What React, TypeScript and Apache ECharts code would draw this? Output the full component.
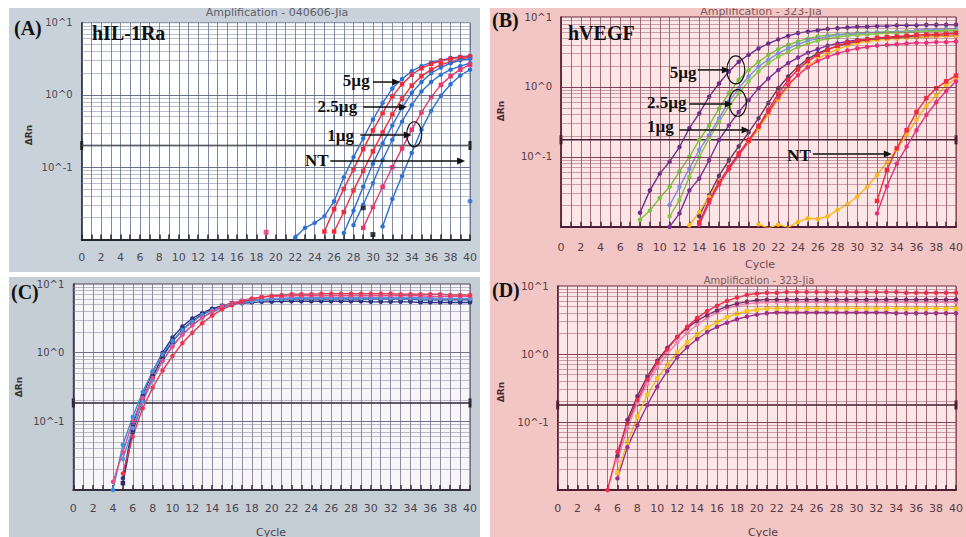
import React, { useEffect, useRef } from "react";
import * as echarts from "echarts";

// ---------- axis / tick data ----------
const xTickLabels = [0, 2, 4, 6, 8, 10, 12, 14, 16, 18, 20, 22, 24, 26, 28, 30, 32, 34, 36, 38, 40];
const yTickValues = [0.1, 1, 10];
const yTickText = ["10^-1", "10^0", "10^1"];
const yMinorLines = [0.02, 0.03, 0.04, 0.05, 0.06, 0.07, 0.08, 0.09, 0.2, 0.3, 0.4, 0.5, 0.6, 0.7, 0.8, 0.9, 2, 3, 4, 5, 6, 7, 8, 9];
const yMajorLines = [0.1, 1];
const thresholds = [0.2, 0.175, 0.185, 0.178];

// ---------- Panel A : hIL-1Ra (ΔRn per cycle) ----------
const aBlue1 = [0.0107, 0.0145, 0.017, 0.0209, 0.0339, 0.0724, 0.138, 0.251, 0.457, 0.776, 1.23, 1.66, 2.14, 2.51, 2.82, 3.02, 3.24, 3.39, 3.47]; // 22-40
const aRed1 = [0.0129, 0.0263, 0.0501, 0.0933, 0.178, 0.324, 0.562, 0.955, 1.41, 1.91, 2.34, 2.69, 2.95, 3.16, 3.31, 3.39]; // 25-40
const aRed2 = [0.0129, 0.024, 0.0479, 0.0891, 0.166, 0.302, 0.537, 0.891, 1.35, 1.82, 2.24, 2.63, 2.88, 3.16, 3.31]; // 26-40
const aBlue2 = [0.0123, 0.0251, 0.0537, 0.112, 0.214, 0.38, 0.661, 1.07, 1.51, 2.0, 2.4, 2.75, 3.02, 3.16]; // 27-40
const aBlue3 = [0.0158, 0.0302, 0.0603, 0.126, 0.24, 0.427, 0.724, 1.12, 1.51, 1.91, 2.24, 2.51, 2.75]; // 28-40
const aPink = [0.0145, 0.0282, 0.0537, 0.1, 0.182, 0.331, 0.575, 0.933, 1.38, 1.82, 2.24, 2.63]; // 29-40
const aBlueR = [0.0151, 0.0363, 0.0759, 0.158, 0.331, 0.603, 0.977, 1.41, 1.86, 2.24]; // 31-40
const aPinkDot: [number, number][] = [[19, 0.0126]];
const aBlackDots: [number, number][] = [[29, 0.0275], [30, 0.0117]];
const aBlueDot: [number, number][] = [[40, 0.0339]];

// ---------- Panel B : hVEGF ----------
const bPurple1 = [0.0158, 0.0331, 0.0575, 0.0851, 0.138, 0.257, 0.417, 0.724, 1.12, 1.66, 2.29, 2.88, 3.55, 4.17, 4.79, 5.37, 5.89, 6.17, 6.46, 6.76, 6.92, 7.08, 7.24, 7.24, 7.41, 7.41, 7.59, 7.59, 7.59, 7.76, 7.76, 7.76, 7.76]; // 8-40
const bGreen1 = [0.0126, 0.017, 0.0257, 0.0372, 0.0617, 0.1, 0.174, 0.282, 0.49, 0.813, 1.26, 1.74, 2.29, 2.88, 3.47, 3.98, 4.47, 4.9, 5.25, 5.5, 5.62, 5.75, 5.89, 6.03, 6.03, 6.17, 6.17, 6.31, 6.31, 6.31, 6.46, 6.46, 6.46]; // 8-40
const bLavender = [0.0204, 0.0372, 0.0676, 0.126, 0.204, 0.355, 0.617, 0.955, 1.41, 1.95, 2.45, 3.02, 3.55, 4.07, 4.57, 4.9, 5.25, 5.5, 5.62, 5.75, 5.89, 6.03, 6.03, 6.17, 6.17, 6.46, 6.61, 6.61, 6.76, 6.76]; // 11-40
const bGreen2 = [0.0141, 0.024, 0.0513, 0.1, 0.182, 0.316, 0.525, 0.813, 1.2, 1.66, 2.19, 2.69, 3.16, 3.72, 4.17, 4.57, 4.9, 5.13, 5.37, 5.5, 5.62, 5.75, 5.89, 5.89, 6.03, 6.03, 6.17, 6.17, 6.31, 6.31]; // 11-40
const bPurple2 = [0.01, 0.0155, 0.0331, 0.049, 0.0891, 0.174, 0.282, 0.437, 0.646, 0.955, 1.32, 1.74, 2.19, 2.63, 3.09, 3.47, 3.89, 4.17, 4.47, 4.68, 4.79, 4.9, 5.01, 5.13, 5.25, 5.25, 5.37, 5.37, 5.5, 5.5]; // 11-40
const bDark = [0.0141, 0.0282, 0.0537, 0.0891, 0.141, 0.224, 0.355, 0.589, 0.955, 1.41, 1.95, 2.51, 3.02, 3.47, 3.8, 4.17, 4.47, 4.68, 4.79, 4.9, 5.01, 5.13, 5.13, 5.25, 5.25, 5.37, 5.37]; // 14-40
const bRed = [0.0115, 0.024, 0.0427, 0.0708, 0.112, 0.174, 0.275, 0.468, 0.794, 1.26, 1.78, 2.34, 2.88, 3.39, 3.89, 4.27, 4.57, 4.79, 5.01, 5.13, 5.25, 5.37, 5.5, 5.62, 5.62, 5.75, 5.89]; // 14-40
const bPink = [0.0107, 0.0219, 0.0398, 0.0661, 0.105, 0.166, 0.269, 0.437, 0.708, 1.07, 1.48, 1.91, 2.34, 2.69, 3.02, 3.31, 3.55, 3.72, 3.89, 3.98, 4.07, 4.17, 4.27, 4.27, 4.37, 4.37, 4.47]; // 14-40
const bYellow = [0.0105, 0.0162, 0.0269, 0.0437, 0.0708, 0.107, 0.162, 0.251, 0.407, 0.661, 1.02, 1.48, 2.0, 2.51, 3.02, 3.47, 3.89, 4.27, 4.47, 4.68, 4.79, 4.9, 5.01, 5.13, 5.25, 5.25, 5.37, 5.37]; // 13-40
const bYellowNT = [0.0108, 0.0096, 0.0107, 0.0098, 0.0117, 0.0132, 0.0129, 0.0141, 0.0174, 0.0209, 0.0269, 0.0372, 0.055, 0.0832, 0.126, 0.204, 0.339, 0.537, 0.759, 1.05, 1.32]; // 20-40
const bRedNT = [0.0234, 0.0646, 0.132, 0.24, 0.437, 0.692, 0.955, 1.2, 1.45]; // 32-40
const bPinkNT = [0.0155, 0.038, 0.0794, 0.14, 0.24, 0.398, 0.603, 0.871, 1.2]; // 32-40

// ---------- Panel C ----------
const cNavy1 = [0.0148, 0.0891, 0.24, 0.525, 1.0, 1.66, 2.4, 3.16, 3.8, 4.37, 4.79, 5.13, 5.25, 5.37, 5.5, 5.5, 5.62, 5.62, 5.62, 5.62, 5.62, 5.62, 5.62, 5.62, 5.62, 5.5, 5.5, 5.5, 5.5, 5.5, 5.37, 5.37, 5.37, 5.37, 5.37, 5.37]; // 5-40
const cNavy2 = [0.0126, 0.0708, 0.2, 0.447, 0.871, 1.45, 2.14, 2.88, 3.63, 4.27, 4.79, 5.25, 5.62, 5.89, 5.89, 5.89, 6.03, 6.03, 6.03, 6.03, 6.03, 6.03, 6.03, 6.03, 6.03, 6.03, 6.03, 6.03, 6.03, 6.03, 5.89, 5.89, 5.89, 5.89, 5.89, 5.89]; // 5-40
const cBlue1 = [0.01, 0.0457, 0.117, 0.269, 0.537, 0.955, 1.48, 2.14, 2.82, 3.55, 4.17, 4.68, 5.13, 5.5, 5.75, 5.89, 6.03, 6.03, 6.17, 6.17, 6.17, 6.17, 6.17, 6.17, 6.17, 6.17, 6.17, 6.17, 6.17, 6.17, 6.17, 6.03, 6.03, 6.03, 6.03, 6.03, 6.03]; // 4-40
const cBlue2 = [0.0282, 0.0794, 0.191, 0.398, 0.759, 1.26, 1.86, 2.51, 3.24, 3.89, 4.47, 5.01, 5.37, 5.62, 5.89, 6.17, 6.17, 6.31, 6.31, 6.31, 6.31, 6.31, 6.31, 6.31, 6.31, 6.31, 6.31, 6.31, 6.31, 6.31, 6.31, 6.31, 6.17, 6.17, 6.17, 6.17]; // 5-40
const cRed = [0.0174, 0.0603, 0.155, 0.309, 0.55, 0.891, 1.38, 1.95, 2.69, 3.47, 4.27, 4.9, 5.5, 6.03, 6.46, 6.76, 6.92, 7.08, 7.08, 7.08, 7.24, 7.24, 7.24, 7.24, 7.24, 7.24, 7.24, 7.24, 7.08, 7.08, 7.08, 7.08, 7.08, 6.92, 6.92, 6.92]; // 5-40
const cPink = [0.0132, 0.0355, 0.1, 0.219, 0.427, 0.759, 1.23, 1.82, 2.51, 3.24, 3.98, 4.68, 5.25, 5.75, 6.17, 6.46, 6.61, 6.61, 6.76, 6.76, 6.76, 6.76, 6.76, 6.76, 6.76, 6.76, 6.76, 6.76, 6.76, 6.76, 6.76, 6.76, 6.61, 6.61, 6.61, 6.61, 6.61]; // 4-40

// ---------- Panel D ----------
const dRed = [0.01, 0.0363, 0.0955, 0.209, 0.417, 0.741, 1.17, 1.78, 2.51, 3.39, 4.27, 5.13, 6.03, 6.76, 7.41, 7.76, 7.94, 7.94, 8.13, 8.13, 8.13, 8.13, 8.13, 8.13, 8.13, 8.13, 8.13, 8.13, 8.13, 8.13, 7.94, 7.94, 7.94, 7.94, 7.94, 7.94]; // 5-40
const dDark = [0.0316, 0.107, 0.24, 0.468, 0.794, 1.23, 1.78, 2.4, 3.09, 3.72, 4.37, 5.01, 5.5, 5.89, 6.17, 6.31, 6.31, 6.31, 6.31, 6.31, 6.31, 6.31, 6.31, 6.31, 6.31, 6.31, 6.31, 6.31, 6.31, 6.31, 6.31, 6.31, 6.31, 6.31, 6.31]; // 6-40
const dPink = [0.0269, 0.0813, 0.191, 0.363, 0.631, 1.0, 1.48, 2.04, 2.69, 3.39, 4.07, 4.68, 5.13, 5.5, 5.62, 5.75, 5.75, 5.75, 5.75, 5.75, 5.75, 5.75, 5.75, 5.75, 5.75, 5.75, 5.75, 5.75, 5.75, 5.75, 5.75, 5.75, 5.75, 5.75, 5.75]; // 6-40
const dYellow = [0.0178, 0.0501, 0.12, 0.251, 0.437, 0.692, 1.05, 1.48, 1.95, 2.45, 2.95, 3.47, 3.89, 4.27, 4.47, 4.68, 4.68, 4.68, 4.68, 4.68, 4.68, 4.68, 4.68, 4.68, 4.68, 4.68, 4.68, 4.68, 4.68, 4.68, 4.68, 4.68, 4.68, 4.68, 4.68]; // 6-40
const dPurple = [0.0148, 0.0427, 0.0891, 0.178, 0.331, 0.562, 0.891, 1.26, 1.66, 2.09, 2.51, 2.88, 3.24, 3.55, 3.8, 3.98, 4.07, 4.07, 4.07, 4.07, 4.07, 4.07, 4.07, 4.07, 4.07, 4.07, 4.07, 4.07, 3.98, 3.98, 3.98, 3.98, 3.98, 3.98, 3.98]; // 6-40

type Curve = { vals: number[]; from: number; color: string; symbol: string };
type Dots = { pts: [number, number][]; color: string; symbol: string };

const BLUE = "#2b6fd5";
const RED = "#f2293a";

const panels = [
  {
    grid: { left: 81.7, top: 22.7, width: 388.3, height: 216.8 },
    plotBg: "#ffffff", border: "#7a84a0", axis: "#25252e",
    vColor: "rgba(100,110,140,0.8)", hMinor: "rgba(125,135,160,0.55)", hMajor: "rgba(90,100,130,0.9)",
    thrColor: "#222", labelMargin: 12, labelColor: "#4a4a55",
    curves: [
      { vals: aBlue1, from: 22, color: BLUE, symbol: "circle" },
      { vals: aRed1, from: 25, color: RED, symbol: "rect" },
      { vals: aRed2, from: 26, color: RED, symbol: "rect" },
      { vals: aBlue2, from: 27, color: BLUE, symbol: "circle" },
      { vals: aBlue3, from: 28, color: BLUE, symbol: "circle" },
      { vals: aPink, from: 29, color: "#e8346f", symbol: "rect" },
      { vals: aBlueR, from: 31, color: BLUE, symbol: "circle" },
    ] as Curve[],
    dots: [
      { pts: aPinkDot, color: "#e8346f", symbol: "rect" },
      { pts: aBlackDots, color: "#111", symbol: "rect" },
      { pts: aBlueDot, color: BLUE, symbol: "circle" },
    ] as Dots[],
  },
  {
    grid: { left: 561, top: 17, width: 395.7, height: 209.7 },
    plotBg: "#fce6e6", border: "#6a2a42", axis: "#4e1c30",
    vColor: "rgba(135,65,90,0.75)", hMinor: "rgba(150,85,105,0.5)", hMajor: "rgba(115,50,75,0.9)",
    thrColor: "#4a1d2e", labelMargin: 15, labelColor: "#5a3a44",
    curves: [
      { vals: bPurple1, from: 8, color: "#6b2d8c", symbol: "circle" },
      { vals: bGreen1, from: 8, color: "#7cc242", symbol: "circle" },
      { vals: bLavender, from: 11, color: "#8090e0", symbol: "circle" },
      { vals: bGreen2, from: 11, color: "#88c64c", symbol: "circle" },
      { vals: bPurple2, from: 11, color: "#7a3098", symbol: "circle" },
      { vals: bDark, from: 14, color: "#5e3a60", symbol: "circle" },
      { vals: bYellow, from: 13, color: "#f9b81e", symbol: "circle" },
      { vals: bPink, from: 14, color: "#ea2f7a", symbol: "circle" },
      { vals: bRed, from: 14, color: "#f2283c", symbol: "rect" },
      { vals: bYellowNT, from: 20, color: "#f9b81e", symbol: "circle" },
      { vals: bRedNT, from: 32, color: "#f2283c", symbol: "rect" },
      { vals: bPinkNT, from: 32, color: "#ea2f7a", symbol: "circle" },
    ] as Curve[],
    dots: [] as Dots[],
  },
  {
    grid: { left: 73.3, top: 284, width: 396.7, height: 206 },
    plotBg: "#f6f6f8", border: "#4a4058", axis: "#342c40",
    vColor: "rgba(115,105,135,0.75)", hMinor: "rgba(130,125,150,0.5)", hMajor: "rgba(95,90,120,0.85)",
    thrColor: "#2e2638", labelMargin: 13, labelColor: "#4a4452",
    curves: [
      { vals: cNavy1, from: 5, color: "#2f3485", symbol: "circle" },
      { vals: cNavy2, from: 5, color: "#2b2a6e", symbol: "rect" },
      { vals: cBlue1, from: 4, color: "#3a8fe0", symbol: "circle" },
      { vals: cBlue2, from: 5, color: "#4a9ae8", symbol: "circle" },
      { vals: cPink, from: 4, color: "#ee4a88", symbol: "circle" },
      { vals: cRed, from: 5, color: "#f5304d", symbol: "circle" },
    ] as Curve[],
    dots: [] as Dots[],
  },
  {
    grid: { left: 557.7, top: 286, width: 402.3, height: 204 },
    plotBg: "#fce6e6", border: "#6a2a42", axis: "#4e1c30",
    vColor: "rgba(135,65,90,0.75)", hMinor: "rgba(150,85,105,0.5)", hMajor: "rgba(115,50,75,0.9)",
    thrColor: "#4a1d2e", labelMargin: 13, labelColor: "#5a3a44",
    curves: [
      { vals: dPurple, from: 6, color: "#a02c8c", symbol: "circle" },
      { vals: dYellow, from: 6, color: "#f6c21c", symbol: "rect" },
      { vals: dPink, from: 6, color: "#f083b0", symbol: "circle" },
      { vals: dDark, from: 6, color: "#7a2a68", symbol: "circle" },
      { vals: dRed, from: 5, color: "#f5284a", symbol: "circle" },
    ] as Curve[],
    dots: [] as Dots[],
  },
];

// annotations in data coordinates (cycle, ΔRn) per panel
const annotTexts = [
  { p: 0, t: "5µg", c: 26.9, v: 1.61 },
  { p: 0, t: "2.5µg", c: 24.3, v: 0.683 },
  { p: 0, t: "1µg", c: 25.3, v: 0.279 },
  { p: 0, t: "NT", c: 23.0, v: 0.122 },
  { p: 1, t: "5µg", c: 11.0, v: 1.63 },
  { p: 1, t: "2.5µg", c: 8.7, v: 0.589 },
  { p: 1, t: "1µg", c: 8.7, v: 0.267 },
  { p: 1, t: "NT", c: 22.9, v: 0.106 },
];
const annotArrows = [
  { p: 0, c1: 30.0, c2: 32.8, v: 1.51 },
  { p: 0, c1: 29.0, c2: 33.5, v: 0.683 },
  { p: 0, c1: 28.7, c2: 34.0, v: 0.279 },
  { p: 0, c1: 25.6, c2: 39.5, v: 0.122 },
  { p: 1, c1: 13.85, c2: 17.1, v: 1.75 },
  { p: 1, c1: 13.0, c2: 17.4, v: 0.569 },
  { p: 1, c1: 12.0, c2: 19.1, v: 0.242 },
  { p: 1, c1: 25.5, c2: 33.5, v: 0.11 },
];
const annotEllipses = [
  { p: 0, c: 34.25, v: 0.286, rx: 7.5, ry: 12.5 },
  { p: 1, c: 17.7, v: 1.75, rx: 9, ry: 14 },
  { p: 1, c: 17.9, v: 0.589, rx: 8.7, ry: 13.3 },
];

const yFormatter = (v: number) => {
  const i = yTickValues.findIndex((t) => Math.abs(Math.log10(t) - Math.log10(v)) < 1e-6);
  return i >= 0 ? yTickText[i] : "";
};

export default function App() {
  const ref = useRef<HTMLDivElement>(null);
  useEffect(() => {
    if (!ref.current) return;
    const chart = echarts.init(ref.current, undefined, { renderer: "svg" });
    const grids: any[] = [];
    const xAxes: any[] = [];
    const yAxes: any[] = [];
    const series: any[] = [];
    panels.forEach((p, i) => {
      grids.push({ ...p.grid, show: true, backgroundColor: p.plotBg, borderColor: p.border, borderWidth: 1, containLabel: false });
      xAxes.push({
        type: "value", gridIndex: i, min: 0, max: 40, interval: 1,
        axisLine: { show: true, onZero: false, lineStyle: { color: p.axis, width: 2 } },
        axisTick: { show: true, inside: true, length: 5, lineStyle: { color: p.axis, width: 1.5 } },
        axisLabel: { margin: p.labelMargin, fontSize: 11, color: p.labelColor, fontFamily: "DejaVu Sans",
          formatter: (v: number) => (xTickLabels.includes(v) ? String(v) : "") },
        splitLine: { show: true, lineStyle: { color: p.vColor, width: 1 } },
      });
      yAxes.push({
        type: "log", gridIndex: i, logBase: 10, min: 0.01, max: 10,
        axisLine: { show: true, lineStyle: { color: p.axis, width: 1.5 } },
        axisTick: { show: false }, splitLine: { show: false },
        axisLabel: { margin: 9, fontSize: 10, color: p.labelColor, fontFamily: "DejaVu Sans", formatter: yFormatter },
      });
      series.push({
        type: "line", xAxisIndex: i, yAxisIndex: i, z: 2,
        data: [[0, thresholds[i]], [40, thresholds[i]]],
        lineStyle: { color: p.thrColor, width: 1.6 },
        symbol: "rect", symbolSize: [3, 9], itemStyle: { color: p.thrColor },
        silent: true,
        markLine: {
          silent: true, symbol: "none", animation: false, label: { show: false },
          data: [
            ...yMinorLines.map((v) => ({ yAxis: v, lineStyle: { color: p.hMinor, width: 1, type: "solid" } })),
            ...yMajorLines.map((v) => ({ yAxis: v, lineStyle: { color: p.hMajor, width: 1, type: "solid" } })),
          ],
        },
      });
      p.curves.forEach((c) => {
        series.push({
          type: "line", xAxisIndex: i, yAxisIndex: i, z: 3,
          data: c.vals.map((v, k) => [c.from + k, v]),
          symbol: c.symbol, symbolSize: 4.5, showSymbol: true,
          lineStyle: { color: c.color, width: 1.4 }, itemStyle: { color: c.color },
        });
      });
      p.dots.forEach((d) => {
        series.push({
          type: "scatter", xAxisIndex: i, yAxisIndex: i, z: 3,
          data: d.pts, symbol: d.symbol, symbolSize: 5, itemStyle: { color: d.color },
        });
      });
    });

    chart.setOption({ animation: false, backgroundColor: "#ffffff", grid: grids, xAxis: xAxes, yAxis: yAxes, series });

    const serif = '"Liberation Serif", "DejaVu Serif", serif';
    const sans = '"DejaVu Sans", sans-serif';
    const txt = (text: string, x: number, y: number, font: string, fill: string, align = "left", rot = 0) => ({
      type: "text", x, y, rotation: rot, z: 50,
      style: { text, font, fill, textAlign: align, textVerticalAlign: "middle" },
    });

    const elements: any[] = [
      { type: "rect", z: -10, shape: { x: 9, y: 8, width: 471, height: 264 }, style: { fill: "#c9d2da" } },
      { type: "rect", z: -10, shape: { x: 9, y: 277, width: 471, height: 260 }, style: { fill: "#c6ced5" } },
      { type: "rect", z: -10, shape: { x: 490, y: 8, width: 476, height: 529 }, style: { fill: "#f2c6c4" } },
      txt("Amplification - 040606-Jia", 277, 12, `11px ${sans}`, "#5e6068", "center"),
      txt("Amplification - 323-Jia", 761, 11, `11px ${sans}`, "#7a5a62", "center"),
      txt("Amplification - 323-Jia", 759, 280, `10px ${sans}`, "#7a5a62", "center"),
      txt("Cycle", 760, 264, `11px ${sans}`, "#6a4a54", "center"),
      txt("Cycle", 271, 532, `11px ${sans}`, "#4a4452", "center"),
      txt("Cycle", 763, 532, `11px ${sans}`, "#5a3a44", "center"),
      txt("ΔRn", 29, 135, `bold 9px ${sans}`, "#333", "center", Math.PI / 2),
      txt("ΔRn", 501, 111, `bold 9px ${sans}`, "#4a2a34", "center", Math.PI / 2),
      txt("ΔRn", 19, 387, `bold 9px ${sans}`, "#333", "center", Math.PI / 2),
      txt("ΔRn", 501, 392, `bold 9px ${sans}`, "#4a2a34", "center", Math.PI / 2),
      txt("(A)", 14, 28, `bold 20px ${serif}`, "#111"),
      txt("(B)", 492, 20, `bold 20px ${serif}`, "#111"),
      txt("(C)", 11, 292, `bold 20px ${serif}`, "#111"),
      txt("(D)", 492, 290, `bold 20px ${serif}`, "#111"),
      txt("hIL-1Ra", 92, 33, `bold 20px ${serif}`, "#111"),
      txt("hVEGF", 568, 33, `bold 20px ${serif}`, "#111"),
      { type: "rect", z: 60, shape: { x: 0, y: 0, width: 966, height: 8 }, style: { fill: "#ffffff" } },
    ];

    const px = (p: number, c: number, v: number) => chart.convertToPixel({ gridIndex: p }, [c, v]) as number[];
    annotTexts.forEach((a) => {
      const [x, y] = px(a.p, a.c, a.v);
      elements.push(txt(a.t, x, y, `bold 17px ${serif}`, "#111"));
    });
    annotArrows.forEach((a) => {
      const [x1, y] = px(a.p, a.c1, a.v);
      const [x2] = px(a.p, a.c2, a.v);
      elements.push({ type: "line", z: 50, shape: { x1, y1: y, x2: x2 - 6, y2: y }, style: { stroke: "#111", lineWidth: 1.5 } });
      elements.push({ type: "polygon", z: 50, shape: { points: [[x2, y], [x2 - 8, y - 3.5], [x2 - 8, y + 3.5]] }, style: { fill: "#111" } });
    });
    annotEllipses.forEach((e) => {
      const [cx, cy] = px(e.p, e.c, e.v);
      elements.push({ type: "ellipse", z: 50, shape: { cx, cy, rx: e.rx, ry: e.ry }, style: { fill: "none", stroke: "#111", lineWidth: 1.2 } });
    });

    chart.setOption({ graphic: { elements } });
    return () => chart.dispose();
  }, []);
  return <div ref={ref} style={{ position: "absolute", left: 0, top: 0, width: 966, height: 537 }} />;
}
